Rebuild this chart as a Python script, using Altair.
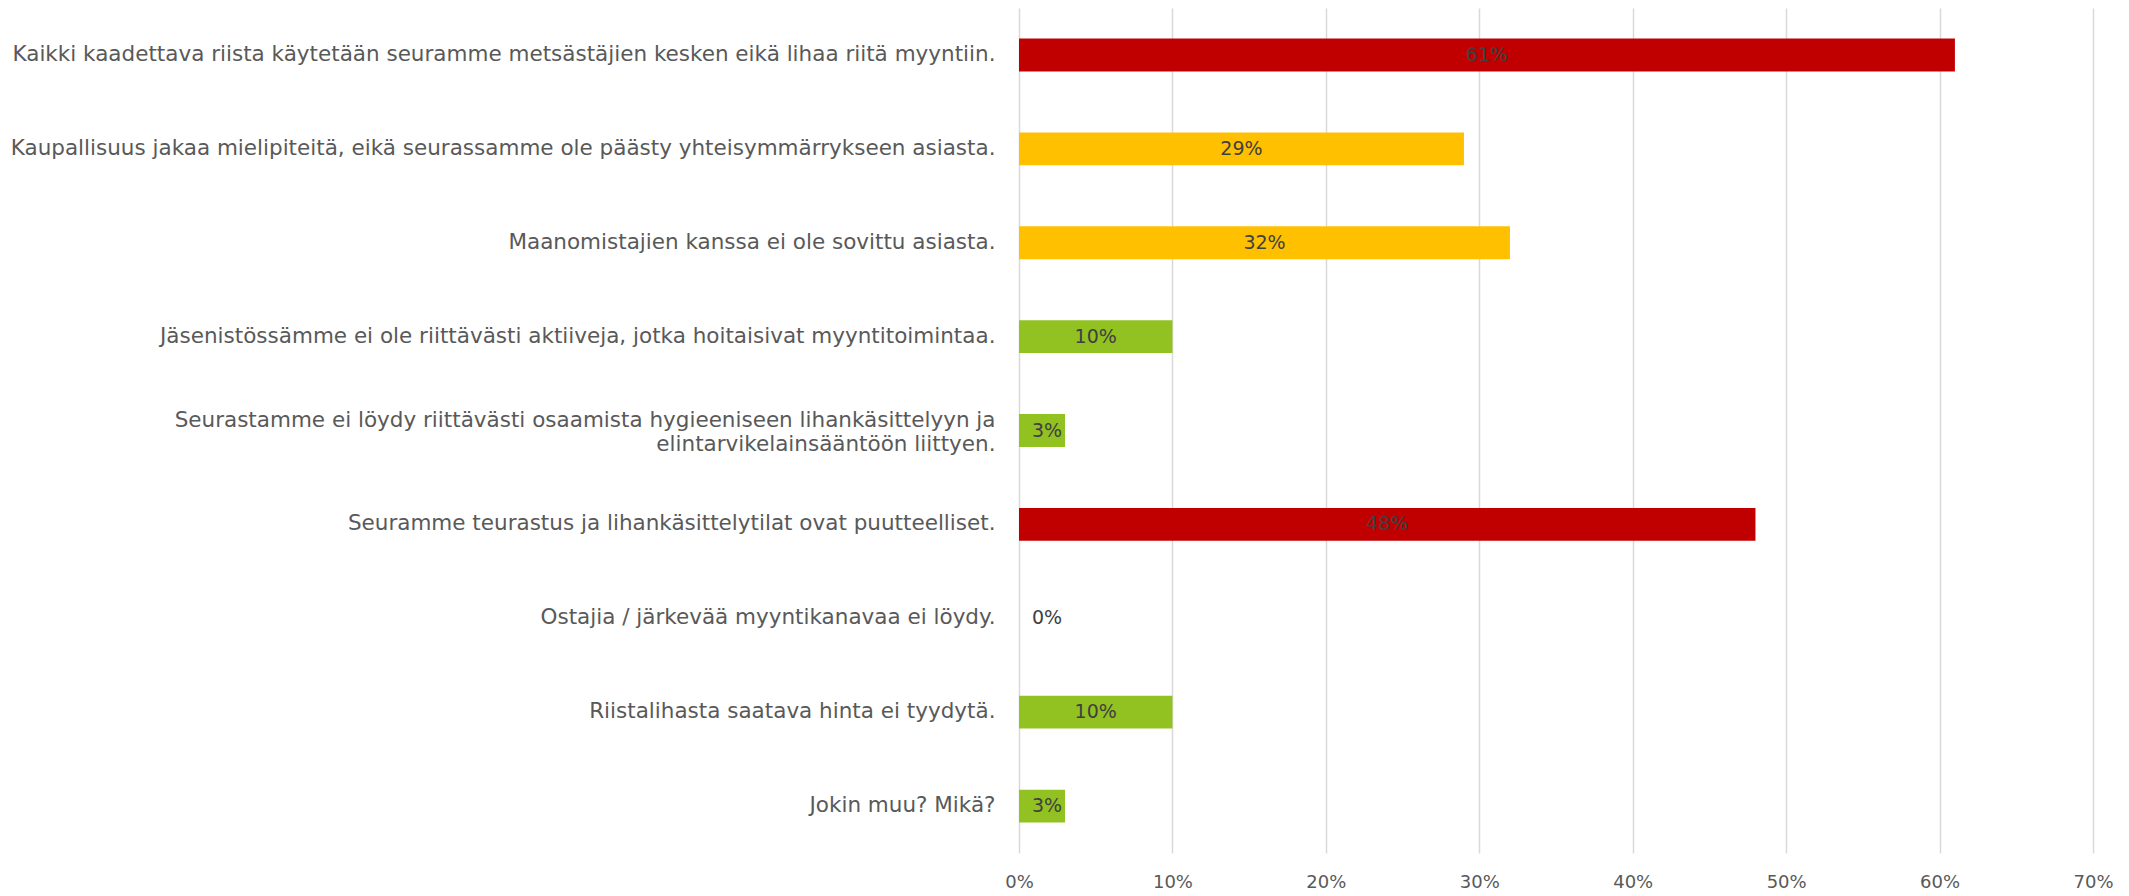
import altair as alt
import pandas as pd

categories = [
    "Kaikki kaadettava riista käytetään seuramme metsästäjien kesken eikä lihaa riitä myyntiin.",
    "Kaupallisuus jakaa mielipiteitä, eikä seurassamme ole päästy yhteisymmärrykseen asiasta.",
    "Maanomistajien kanssa ei ole sovittu asiasta.",
    "Jäsenistössämme ei ole riittävästi aktiiveja, jotka hoitaisivat myyntitoimintaa.",
    "Seurastamme ei löydy riittävästi osaamista hygieeniseen lihankäsittelyyn ja\nelintarvikelainsääntöön liittyen.",
    "Seuramme teurastus ja lihankäsittelytilat ovat puutteelliset.",
    "Ostajia / järkevää myyntikanavaa ei löydy.",
    "Riistalihasta saatava hinta ei tyydytä.",
    "Jokin muu? Mikä?",
]
values = [0.61, 0.29, 0.32, 0.10, 0.03, 0.48, 0.00, 0.10, 0.03]
levels = ["high", "mid", "mid", "low", "low", "high", "low", "low", "low"]
level_names = ["high", "mid", "low"]
level_colors = ["#C00000", "#FFC000", "#92C122"]
x_ticks = [0, 0.1, 0.2, 0.3, 0.4, 0.5, 0.6, 0.7]

df = pd.DataFrame({"cat": categories, "v": values, "level": levels})

font = "DejaVu Sans"

x_axis = alt.Axis(
    values=x_ticks,
    format=".0%",
    grid=True,
    gridColor="#D9D9D9",
    gridWidth=1.5,
    domain=False,
    ticks=False,
    labelFlush=False,
    labelFont=font,
    labelFontSize=18,
    labelColor="#595959",
    labelPadding=20,
)
x_scale = alt.Scale(domain=[0, 0.7], nice=False)

base = alt.Chart(df).encode(
    y=alt.Y(
        "cat:N",
        sort=categories,
        title=None,
        scale=alt.Scale(paddingInner=0.65),
        axis=alt.Axis(
            labelExpr="split(datum.label, '\\n')",
            labelFont=font,
            labelFontSize=21.5,
            labelColor="#595959",
            labelLimit=1200,
            labelPadding=24,
            labelLineHeight=24,
            labelOffset={
                "condition": {"test": "indexof(datum.label, '\\n') >= 0", "value": -10},
                "value": 0,
            },
            ticks=False,
            domain=False,
            grid=False,
            minExtent=1011,
            maxExtent=1011,
        ),
    )
)

bars = base.mark_bar().encode(
    x=alt.X("v:Q", title=None, scale=x_scale, axis=x_axis),
    color=alt.Color(
        "level:N",
        scale=alt.Scale(domain=level_names, range=level_colors),
        legend=None,
    ),
)

labels = base.mark_text(
    font=font, fontSize=19, color="#404040", align="center", baseline="middle"
).transform_calculate(
    pos="max(datum.v / 2, 0.0183)",
    lab="format(datum.v, '.0%')",
).encode(
    x=alt.X("pos:Q", title=None, scale=x_scale, axis=x_axis),
    text="lab:N",
)

chart = (
    alt.layer(bars, labels)
    .properties(width=1074, height=845, padding=0, background="white")
    .configure_view(strokeWidth=0, stroke=None)
)

chart.save("out.html", embed_options={"renderer": "svg", "actions": False})
